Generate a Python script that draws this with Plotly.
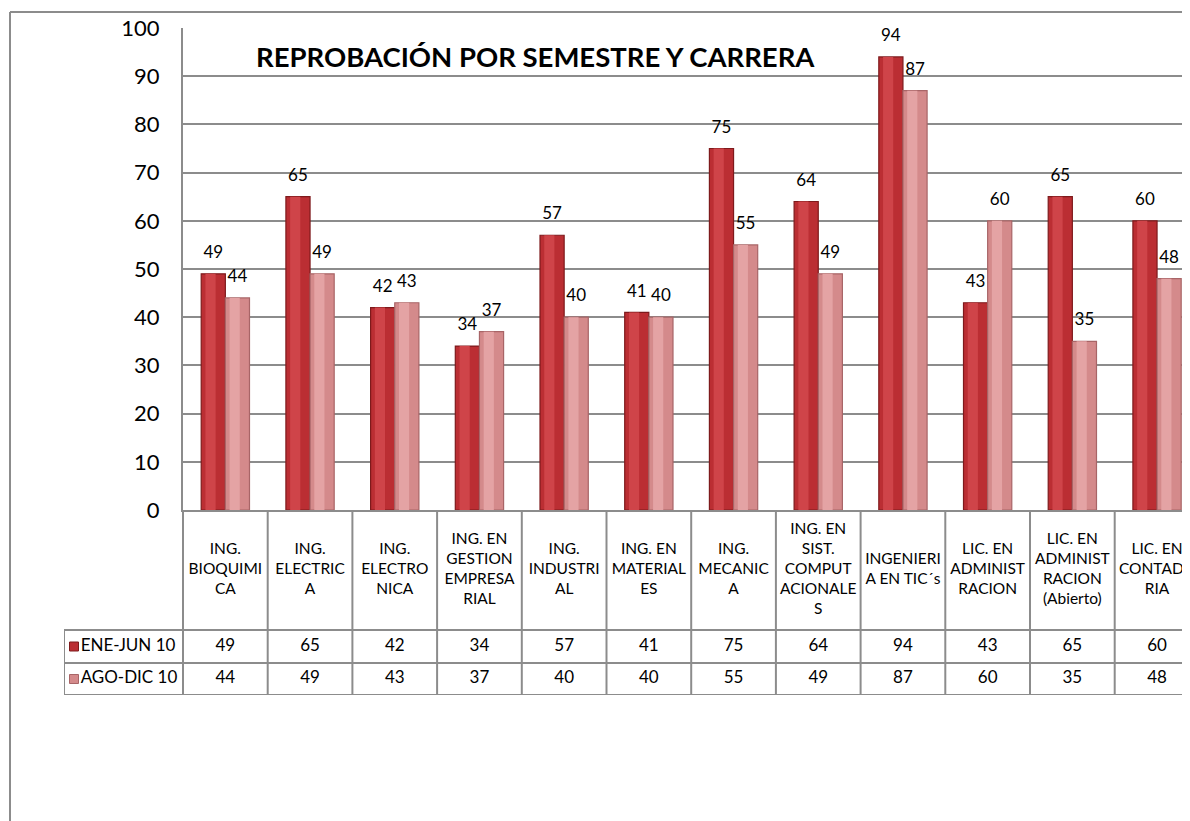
import plotly.graph_objects as go

# Datos del gráfico
carreras = [
    "ING.<br>BIOQUIMI<br>CA", "ING.<br>ELECTRIC<br>A", "ING.<br>ELECTRO<br>NICA",
    "ING. EN<br>GESTION<br>EMPRESA<br>RIAL", "ING.<br>INDUSTRI<br>AL", "ING. EN<br>MATERIAL<br>ES",
    "ING.<br>MECANIC<br>A", "ING. EN<br>SIST.<br>COMPUT<br>ACIONALE<br>S", "INGENIERI<br>A EN TIC´s",
    "LIC. EN<br>ADMINIST<br>RACION", "LIC. EN<br>ADMINIST<br>RACION<br>(Abierto)", "LIC. EN<br>CONTADU<br>RIA",
]
series = ["ENE-JUN 10", "AGO-DIC 10"]
ene_jun = [49, 65, 42, 34, 57, 41, 75, 64, 94, 43, 65, 60]
ago_dic = [44, 49, 43, 37, 40, 40, 55, 49, 87, 60, 35, 48]
y_ticks = list(range(0, 101, 10))

# Geometría: la página añade 8 px de margen, así que todo se corre 8 px
OFF = 8
W, H = 1190 - OFF, 821 - OFF
FONT = "Lato, 'Open Sans', sans-serif"
GRID = "#8c8c8c"
C1, C1_HI, C1_LINE = "#bb2e33", "#cf4449", "#7e1a1c"
C2, C2_HI, C2_LINE = "#d48a8b", "#e4a3a4", "#a86567"

x_idx = list(range(len(ene_jun)))
px_cat = 84.7
x_max = -0.5 + (1190 - 183) / px_cat
x2_min = -0.5 - (183 - 64) / px_cat
BW = 0.285  # ancho de cada barra (unidades de categoría)

def px(p):
    return (p - OFF) / W

def py(p):
    return 1 - (p - OFF) / H

fig = go.Figure()

# Barras (cuerpo + brillo para imitar el relieve)
fig.add_trace(go.Bar(x=x_idx, y=ene_jun, name=series[0], offset=-BW, width=BW,
                     marker=dict(color=C1, line=dict(color=C1_LINE, width=1.2))))
fig.add_trace(go.Bar(x=x_idx, y=ene_jun, offset=-BW + 0.05, width=0.12, hoverinfo="skip",
                     marker=dict(color=C1_HI, line=dict(width=0))))
fig.add_trace(go.Bar(x=x_idx, y=ago_dic, name=series[1], offset=0, width=BW,
                     marker=dict(color=C2, line=dict(color=C2_LINE, width=1.2))))
fig.add_trace(go.Bar(x=x_idx, y=ago_dic, offset=0.05, width=0.12, hoverinfo="skip",
                     marker=dict(color=C2_HI, line=dict(width=0))))

# Etiquetas de datos
half = BW / 2
fig.add_trace(go.Scatter(x=[i - half for i in x_idx], y=ene_jun, mode="markers+text",
                         text=[str(v) for v in ene_jun], textposition="top center",
                         marker=dict(size=17, opacity=0), cliponaxis=False,
                         textfont=dict(size=17, color="black", family=FONT), hoverinfo="skip"))
fig.add_trace(go.Scatter(x=[i + half for i in x_idx], y=ago_dic, mode="markers+text",
                         text=[str(v) for v in ago_dic], textposition="top center",
                         marker=dict(size=17, opacity=0), cliponaxis=False,
                         textfont=dict(size=17, color="black", family=FONT), hoverinfo="skip"))

# Tabla de datos (ejes x2/y2)
ROW_Y = [60, 136.5, 169]
fig.add_trace(go.Scatter(x=x_idx, y=[ROW_Y[0]] * len(x_idx), mode="text", text=carreras,
                         textposition="middle center", xaxis="x2", yaxis="y2",
                         textfont=dict(size=15.5, color="black", family=FONT), hoverinfo="skip"))
fig.add_trace(go.Scatter(x=x_idx, y=[ROW_Y[1]] * len(x_idx), mode="text", text=[str(v) for v in ene_jun],
                         xaxis="x2", yaxis="y2", textfont=dict(size=17, color="black", family=FONT),
                         hoverinfo="skip"))
fig.add_trace(go.Scatter(x=x_idx, y=[ROW_Y[2]] * len(x_idx), mode="text", text=[str(v) for v in ago_dic],
                         xaxis="x2", yaxis="y2", textfont=dict(size=17, color="black", family=FONT),
                         hoverinfo="skip"))
# Clave de leyenda + nombre de serie
key_x = x2_min + 10 / px_cat
fig.add_trace(go.Scatter(x=[key_x, key_x], y=ROW_Y[1:], mode="markers+text", text=series,
                         textposition="middle right", xaxis="x2", yaxis="y2",
                         marker=dict(symbol="square", size=9, color=[C1, C2],
                                     line=dict(color=[C1_LINE, C2_LINE], width=1)),
                         textfont=dict(size=17, color="black", family=FONT), hoverinfo="skip"))

shapes = []
line = dict(color=GRID, width=2)
n = len(ene_jun)
for k in range(n + 1):
    shapes.append(dict(type="line", xref="x2", yref="y2", x0=-0.5 + k, x1=-0.5 + k,
                       y0=0, y1=185, line=line))
shapes.append(dict(type="line", xref="x2", yref="y2", x0=x2_min, x1=x2_min, y0=120, y1=185, line=line))
for yy in [120, 153, 185]:
    shapes.append(dict(type="line", xref="x2", yref="y2", x0=x2_min, x1=n, y0=yy, y1=yy, line=line))
# Marco exterior del área del gráfico
shapes.append(dict(type="line", xref="paper", yref="paper", x0=px(10), x1=1, y0=py(12), y1=py(12), line=line))
shapes.append(dict(type="line", xref="paper", yref="paper", x0=px(10), x1=px(10), y0=py(12), y1=0, line=line))

fig.update_layout(
    width=W, height=H, autosize=False,
    margin=dict(l=0, r=0, t=0, b=0, pad=0),
    plot_bgcolor="white", paper_bgcolor="white",
    barmode="overlay",
    showlegend=False,
    font=dict(family=FONT, color="black"),
    xaxis=dict(domain=[px(183), 1], range=[-0.5, x_max], showticklabels=False, showgrid=False,
               zeroline=False, showline=True, linecolor=GRID, linewidth=2, anchor="y", automargin=False),
    yaxis=dict(domain=[py(510), py(28)], range=[0, 100], tickvals=y_ticks, showgrid=True,
               gridcolor=GRID, gridwidth=2, zeroline=False, showline=True, linecolor=GRID,
               linewidth=2, tickfont=dict(size=22, family=FONT), ticklabelstandoff=17,
               anchor="x", automargin=False),
    xaxis2=dict(domain=[px(64), 1], range=[x2_min, x_max], visible=False, anchor="y2", automargin=False),
    yaxis2=dict(domain=[py(695), py(510)], range=[185, 0], visible=False, anchor="x2", automargin=False),
    shapes=shapes,
    annotations=[dict(text="<b>REPROBACIÓN POR SEMESTRE Y CARRERA</b>", xref="paper", yref="paper",
                      x=px(535), y=py(57), xanchor="center", yanchor="middle", showarrow=False,
                      font=dict(size=27.5, family=FONT, color="black"))],
)

fig.write_html("out.html")
